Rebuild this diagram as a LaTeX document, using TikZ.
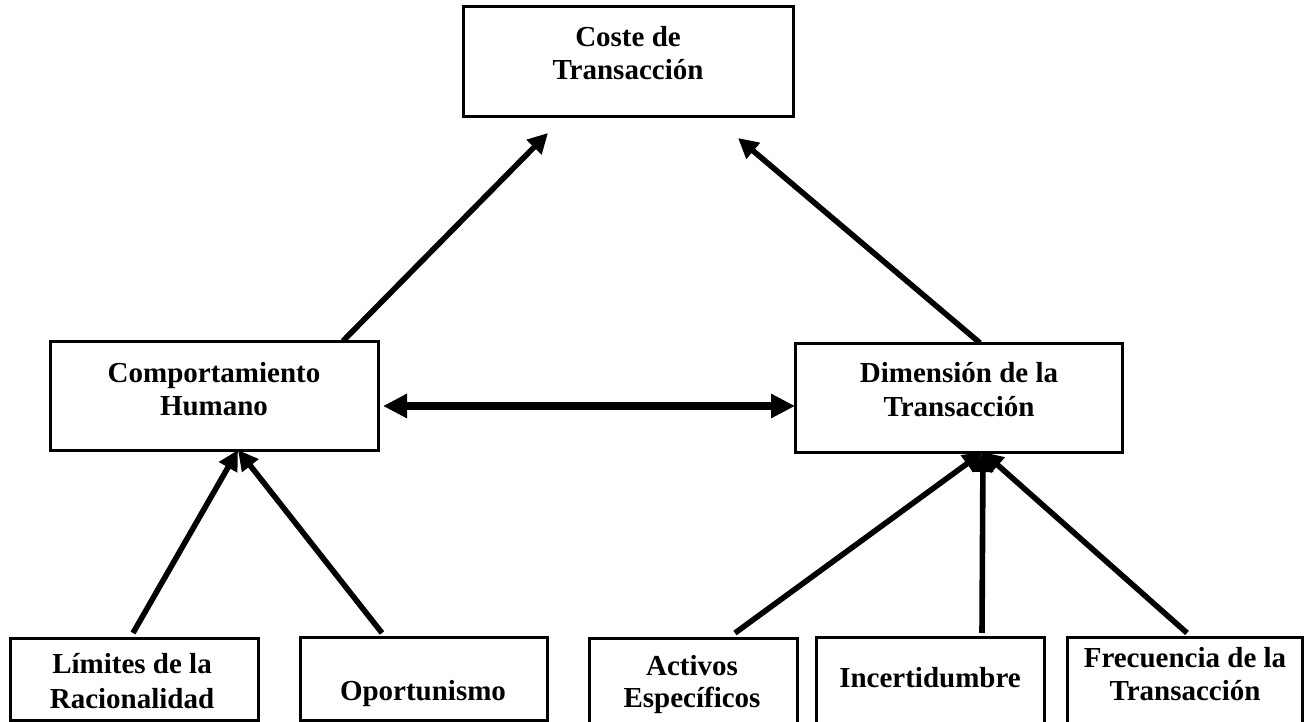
\documentclass[tikz,border=0pt]{standalone}
\usepackage{fontspec}
\setmainfont{Liberation Serif}
\usetikzlibrary{arrows.meta,calc,fit}
\begin{document}
\begin{tikzpicture}[x=0.5pt,y=-0.5pt,
  box/.style={draw,line width=1.5pt,inner sep=0pt,outer sep=0pt},
  lbl/.style={font=\bfseries\fontsize{14.5}{16.5}\selectfont,inner sep=0pt,anchor=base},
  arr/.style={line width=2.8pt,-{Triangle[length=10pt,width=10pt]}},
  dbl/.style={line width=4pt,{Triangle[length=12pt,width=11.5pt]}-{Triangle[length=12pt,width=11.5pt]}}]
\useasboundingbox (0,0) rectangle (1313,722);
\clip (0,0) rectangle (1313,722);
% corner coordinates
\coordinate (c1) at (463,7);   \coordinate (c2) at (793,117);
\coordinate (h1) at (50,341);  \coordinate (h2) at (378,450);
\coordinate (d1) at (795,343); \coordinate (d2) at (1122,452);
\coordinate (l1) at (10,638);  \coordinate (l2) at (258,720);
\coordinate (o1) at (300,637); \coordinate (o2) at (547,720);
\coordinate (a1) at (589,638); \coordinate (a2) at (797,740);
\coordinate (i1) at (816,637); \coordinate (i2) at (1044,740);
\coordinate (f1) at (1067,637); \coordinate (f2) at (1302,740);
% boxes
\node[box,fit=(c1)(c2)] (coste) {};
\node[box,fit=(h1)(h2)] (comp) {};
\node[box,fit=(d1)(d2)] (dim) {};
\node[box,fit=(l1)(l2)] (lim) {};
\node[box,fit=(o1)(o2)] (opor) {};
\node[box,fit=(a1)(a2)] (act) {};
\node[box,fit=(i1)(i2)] (inc) {};
\node[box,fit=(f1)(f2)] (frec) {};
% labels
\node[lbl] (costeA) at (628,47) {Coste de};
\node[lbl] (costeB) at (628,80) {Transacción};
\node[lbl] (compA) at (214,382) {Comportamiento};
\node[lbl] (compB) at (214,415) {Humano};
\node[lbl] (dimA) at (959,382) {Dimensión de la};
\node[lbl] (dimB) at (959,416) {Transacción};
\node[lbl] (limA) at (132,673) {Límites de la};
\node[lbl] (limB) at (132,708) {Racionalidad};
\node[lbl] (oporA) at (423,700) {Oportunismo};
\node[lbl] (actA) at (692,675) {Activos};
\node[lbl] (actB) at (692,707) {Específicos};
\node[lbl] (incA) at (930,687) {Incertidumbre};
\node[lbl] (frecA) at (1185,667) {Frecuencia de la};
\node[lbl] (frecB) at (1185,700) {Transacción};
% connectors
\draw[arr] ($(comp.north west)+(293,0)$) -- ($(coste.south west)+(85,16)$);
\draw[arr] ($(dim.north west)+(185,0)$) -- ($(coste.south west)+(275,21)$);
\draw[dbl] ($(comp.north east)+(5,65)$) -- ($(dim.north west)+(0,63)$);
\draw[arr] ($(lim.north west)+(123,-5)$) -- ($(comp.south west)+(188,0)$);
\draw[arr] ($(opor.north west)+(82,-4)$) -- ($(comp.south west)+(188,0)$);
\draw[arr] ($(act.north west)+(146,-5)$) -- ($(dim.south west)+(188,0)$);
\draw[arr] ($(inc.north west)+(166,-4)$) -- ($(dim.south west)+(188,0)$);
\draw[arr] ($(frec.north west)+(120,-4)$) -- ($(dim.south west)+(188,0)$);
\end{tikzpicture}
\end{document}
